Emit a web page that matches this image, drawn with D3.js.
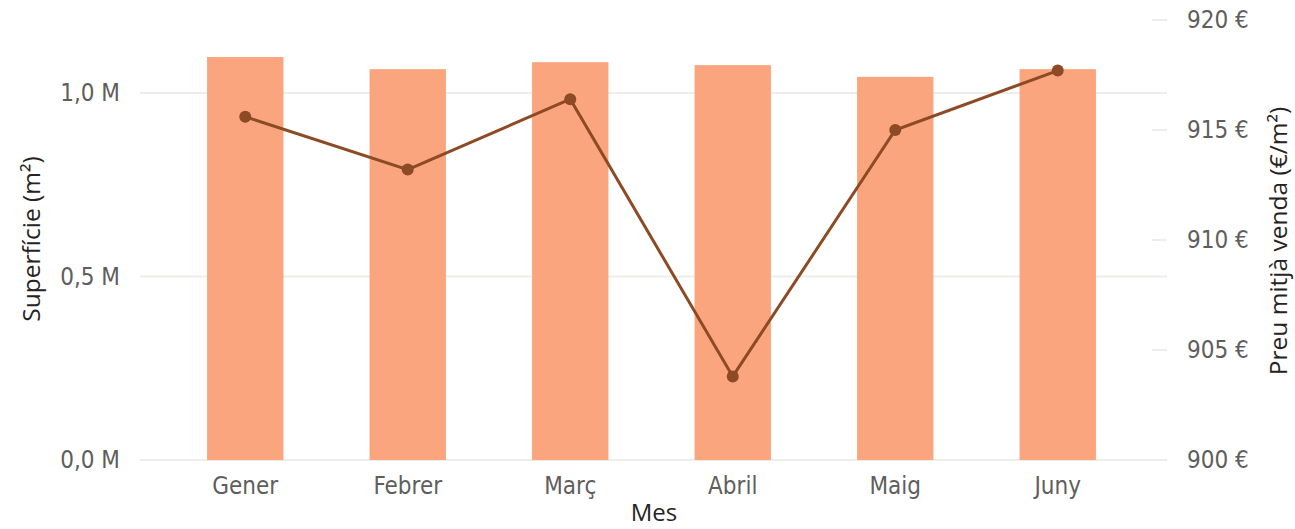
<!DOCTYPE html>
<html lang="ca">
<head>
<meta charset="UTF-8">
<title>Superfície i preu mitjà per mes</title>
<script src="https://d3js.org/d3.v7.min.js"></script>
<style>
  body { margin: 0; background: #fff; }
  svg text { font-family: "DejaVu Sans Condensed", "DejaVu Sans", sans-serif; }
  .title { font-family: "Open Sans", sans-serif !important; fill: #252423; }
</style>
</head>
<body>
<div id="chart"></div>
<script>
const months = ["Gener", "Febrer", "Març", "Abril", "Maig", "Juny"];
const superficie = [1098000, 1065000, 1084000, 1076000, 1044000, 1065000];
const preu = [915.6, 913.2, 916.4, 903.8, 915.0, 917.7];
const leftTicks = [0, 500000, 1000000];
const rightTicks = [900, 905, 910, 915, 920];

const width = 1295, height = 529;
const svg = d3.select("#chart").append("svg")
    .attr("width", width)
    .attr("height", height);

const x = d3.scaleBand()
    .domain(months)
    .range([164, 1139])
    .paddingInner(0.53)
    .paddingOuter(0.265);

const yL = d3.scaleLinear().domain([0, 1000000]).range([460, 93]);
const yR = d3.scaleLinear().domain([900, 920]).range([460, 20]);

const fmtM = d => (d / 1e6).toFixed(1).replace(".", ",") + " M";

// gridlines from the left axis
svg.append("g")
    .selectAll("line")
    .data(leftTicks)
    .enter()
    .append("line")
    .attr("x1", 140).attr("x2", 1167)
    .attr("y1", d => yL(d)).attr("y2", d => yL(d))
    .attr("stroke", "#eeedec")
    .attr("stroke-width", 2);

// short dashes on right axis
svg.append("g")
    .selectAll("line")
    .data(rightTicks)
    .enter()
    .append("line")
    .attr("x1", 1152).attr("x2", 1167)
    .attr("y1", d => yR(d)).attr("y2", d => yR(d))
    .attr("stroke", "#eeedec")
    .attr("stroke-width", 2);

// bars
svg.append("g")
    .selectAll("rect")
    .data(months)
    .enter()
    .append("rect")
    .attr("x", d => x(d))
    .attr("y", (d, i) => yL(superficie[i]))
    .attr("width", x.bandwidth())
    .attr("height", (d, i) => yL(0) - yL(superficie[i]))
    .attr("fill", "#fba57f");

// left axis
const left = svg.append("g")
    .attr("transform", "translate(120,0)")
    .call(d3.axisLeft(yL).tickValues(leftTicks).tickFormat(fmtM).tickSize(0).tickPadding(0));
left.select(".domain").remove();
left.selectAll("text").attr("fill", "#605e5c").style("font-size", "24px");

// right axis
const right = svg.append("g")
    .attr("transform", "translate(1187,0)")
    .call(d3.axisRight(yR).tickValues(rightTicks).tickFormat(d => d + " €").tickSize(0).tickPadding(0));
right.select(".domain").remove();
right.selectAll("text").attr("fill", "#605e5c").style("font-size", "24px");

// bottom axis
const bottom = svg.append("g")
    .attr("transform", "translate(0,477)")
    .call(d3.axisBottom(x).tickSize(0).tickPadding(0));
bottom.select(".domain").remove();
bottom.selectAll("text").attr("fill", "#605e5c").style("font-size", "24px").attr("dy", "0.71em");

// line
const line = d3.line()
    .x((d, i) => x(months[i]) + x.bandwidth() / 2)
    .y(d => yR(d));

svg.append("path")
    .datum(preu)
    .attr("d", line)
    .attr("fill", "none")
    .attr("stroke", "#8c4a25")
    .attr("stroke-width", 3);

svg.append("g")
    .selectAll("circle")
    .data(preu)
    .enter()
    .append("circle")
    .attr("cx", (d, i) => x(months[i]) + x.bandwidth() / 2)
    .attr("cy", d => yR(d))
    .attr("r", 6)
    .attr("fill", "#8c4a25");

// axis titles
svg.append("text")
    .attr("class", "title")
    .attr("transform", "translate(40,239) rotate(-90)")
    .attr("text-anchor", "middle")
    .style("font-size", "24.5px")
    .text("Superfície (m²)");

svg.append("text")
    .attr("class", "title")
    .attr("transform", "translate(1287,241) rotate(-90)")
    .attr("text-anchor", "middle")
    .style("font-size", "24.5px")
    .text("Preu mitjà venda (€/m²)");

svg.append("text")
    .attr("class", "title")
    .attr("x", 654)
    .attr("y", 521)
    .attr("text-anchor", "middle")
    .style("font-size", "24px")
    .text("Mes");
</script>
</body>
</html>
